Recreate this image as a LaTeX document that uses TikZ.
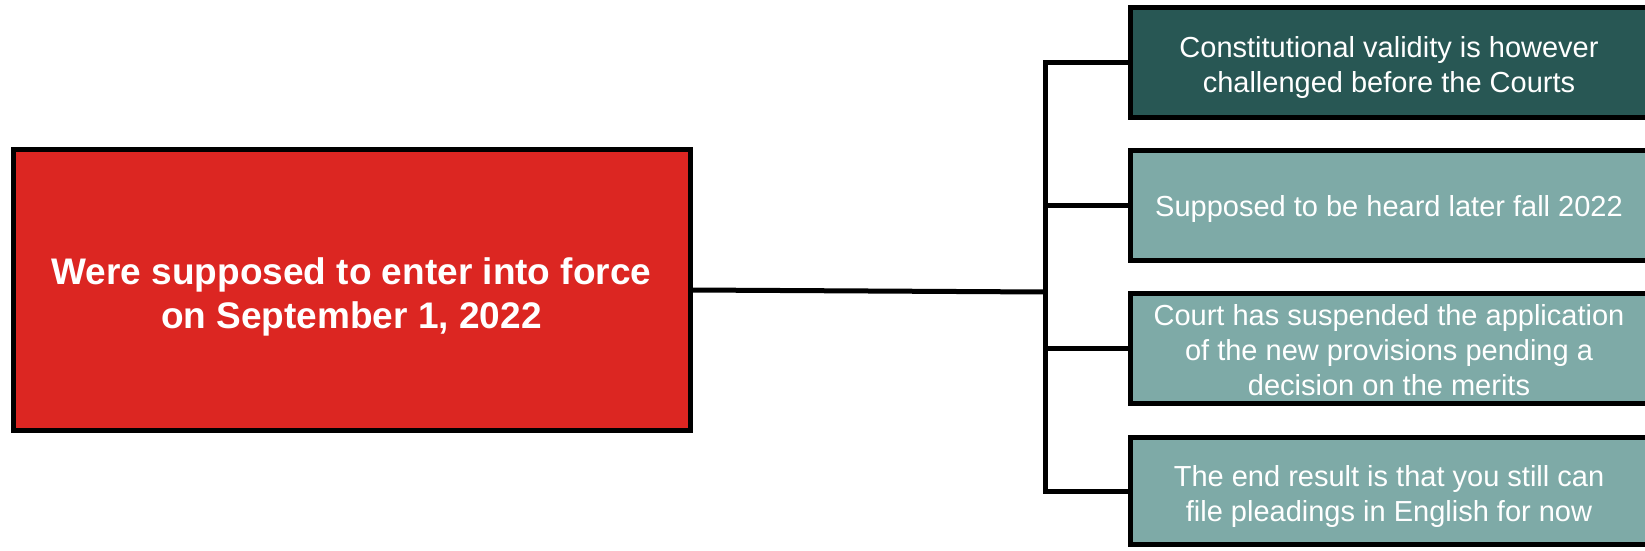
\documentclass[tikz,border=0pt]{standalone}
\usepackage{fontspec}
\setmainfont{Liberation Sans}
\definecolor{boxred}{HTML}{DC2622}
\definecolor{darkteal}{HTML}{285754}
\definecolor{lightteal}{HTML}{7EAAA7}
\tikzset{
  mainbox/.style={draw=black, line width=5pt, fill=boxred,
    minimum width=677pt, minimum height=281pt, inner sep=0pt},
  maintext/.style={text=white, align=center, inner sep=0pt,
    font=\bfseries\fontsize{37}{44}\selectfont},
  sidebox/.style={draw=black, line width=5pt,
    minimum width=518pt, minimum height=110pt, inner sep=0pt},
  sidetext/.style={text=white, align=center, inner sep=0pt,
    font=\fontsize{29}{35}\selectfont},
  conn/.style={draw=black, line width=5pt, line join=miter}
}
\begin{document}
\begin{tikzpicture}[x=1pt,y=-1pt]
\useasboundingbox (0,0) rectangle (1645,551);
\clip (0,0) rectangle (1645,551);
\node[mainbox, label={[maintext, yshift=-7pt]center:Were supposed to enter into force\\on September 1, 2022}] (main) at (351.5,290) {};
\node[sidebox, fill=darkteal, label={[sidetext, yshift=-5pt]center:Constitutional validity is however\\challenged before the Courts}] (b1) at (1389,62.5) {};
\node[sidebox, fill=lightteal, label={[sidetext, yshift=-3pt]center:Supposed to be heard later fall 2022}] (b2) at (1389,205.5) {};
\node[sidebox, fill=lightteal, label={[sidetext, yshift=-2pt]center:Court has suspended the application\\of the new provisions pending a\\decision on the merits}] (b3) at (1389,348.5) {};
\node[sidebox, fill=lightteal, minimum height=107pt, label={[sidetext, yshift=-5pt]center:The end result is that you still can\\file pleadings in English for now}] (b4) at (1389,491) {};
\coordinate (hub) at (1045,292);
\draw[conn] (b1.west) -- (b1.west -| hub) -- (b4.west -| hub) -- (b4.west);
\draw[conn] (main.east) -- (hub);
\draw[conn] (b2.west) -- (b2.west -| hub);
\draw[conn] (b3.west) -- (b3.west -| hub);
\end{tikzpicture}
\end{document}
